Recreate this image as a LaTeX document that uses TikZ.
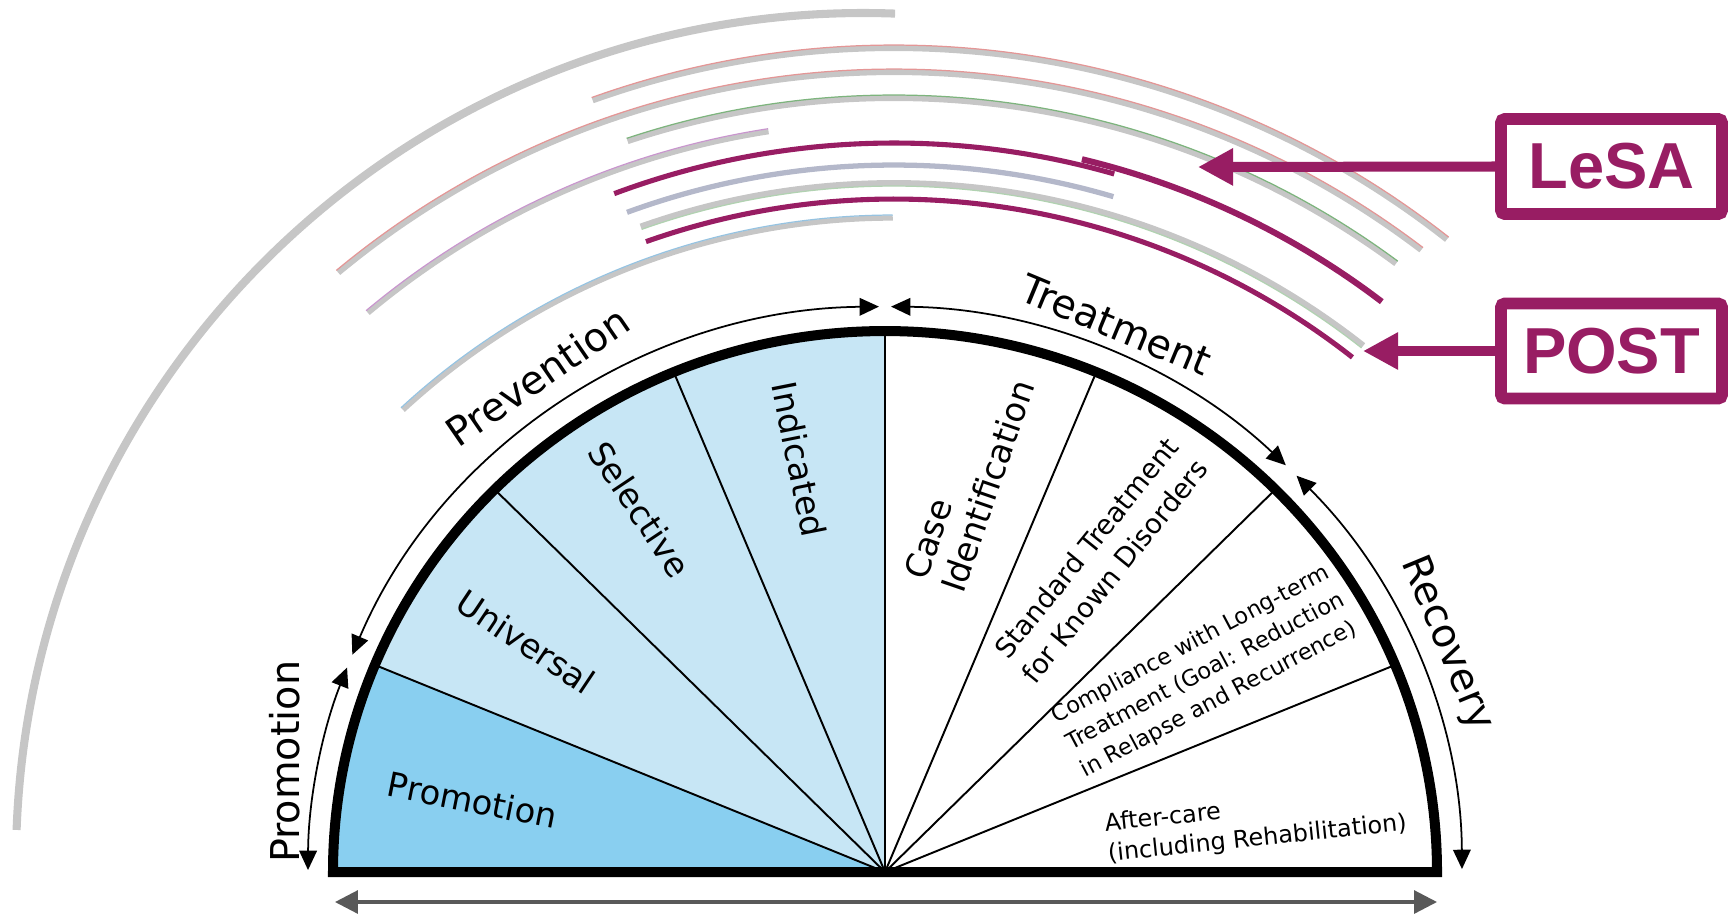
\documentclass[tikz,border=0pt]{standalone}
\usepackage{fontspec}
\setmainfont{DejaVu Sans}
\newfontfamily\boxfont{Liberation Sans}
\usetikzlibrary{arrows.meta}

\definecolor{lesapurple}{RGB}{152,29,99}
\definecolor{promoblue}{RGB}{137,207,240}
\definecolor{prevblue}{RGB}{199,230,245}
\definecolor{ringgray}{RGB}{198,198,198}
\definecolor{edgepink}{RGB}{228,150,150}
\definecolor{edgegreen}{RGB}{125,180,125}
\definecolor{edgelilac}{RGB}{200,150,205}
\definecolor{edgeblue}{RGB}{150,195,225}
\definecolor{slategray}{RGB}{180,184,202}

\tikzset{
  rim/.style={line width=2.85pt, line join=miter},
  divider/.style={line width=0.55pt},
  spanarrow/.style={line width=0.5pt, {Triangle[length=5.5pt,width=5pt]}-{Triangle[length=5.5pt,width=5pt]}},
  basearrow/.style={black!65, line width=0.9pt, {Triangle[length=6.5pt,width=6.5pt]}-{Triangle[length=6.5pt,width=6.5pt]}},
  phaselabel/.style={font=\fontsize{11.3}{13}\selectfont},
  sectorlabel/.style={font=\fontsize{9.6}{11.2}\selectfont, align=left},
  ring/.style={ringgray, line width=1.7pt},
  ringedge/.style={line width=0.35pt},
  toolarc/.style={lesapurple, line width=1.45pt},
  toolbox/.style={draw=lesapurple, line width=3.3pt, rounded corners=1pt, minimum width=2.21cm, minimum height=0.95cm, inner sep=0pt, text=lesapurple, font=\boxfont\bfseries\fontsize{18.5}{20}\selectfont},
  toolarrow/.style={lesapurple, line width=2.85pt, -{Triangle[length=10pt,width=10pt]}}
}

\begin{document}
\begin{tikzpicture}
\useasboundingbox (0,0) rectangle (17.35,9.14);

% Drawing outermost ring
\draw[ringgray, line width=2.3pt] (8.64,0.53) ++(177.9:8.48) arc[start angle=177.9, end angle=87.9, radius=8.48];%

\begin{scope}[shift={(8.94,-0.28)}]
% Drawing ring (pink edge, short)
\draw[ring] (109.7:8.94) arc[start angle=109.7, end angle=51.8, radius=8.94];%
\draw[ringedge, edgepink] (109.7:8.97) arc[start angle=109.7, end angle=51.8, radius=8.97];%
% Drawing ring (pink edge, long)
\draw[ring] (129.7:8.70) arc[start angle=129.7, end angle=52.7, radius=8.70];%
\draw[ringedge, edgepink] (129.7:8.73) arc[start angle=129.7, end angle=52.7, radius=8.73];%
% Drawing ring (green edge)
\draw[ring] (108.4:8.44) arc[start angle=108.4, end angle=53.5, radius=8.44];%
\draw[ringedge, edgegreen] (108.4:8.47) arc[start angle=108.4, end angle=53.5, radius=8.47];%
% Drawing ring (lilac edge)
\draw[ring, line width=1.5pt] (129.9:8.20) arc[start angle=129.9, end angle=98.8, radius=8.20];%
\draw[ringedge, edgelilac] (129.9:8.23) arc[start angle=129.9, end angle=98.8, radius=8.23];%
% Drawing ring (slate)
\draw[slategray, line width=1.5pt] (110.1:7.77) arc[start angle=110.1, end angle=73.6, radius=7.77];%
% Drawing ring (plain)
\draw[ring] (109.5:7.59) arc[start angle=109.5, end angle=51.8, radius=7.59];%
\draw[ringedge, edgegreen!60] (109.5:7.56) arc[start angle=109.5, end angle=51.8, radius=7.56];%
% Drawing ring (blue edge)
\draw[ring, line width=1.5pt] (132.7:7.24) arc[start angle=132.7, end angle=90.1, radius=7.24];%
\draw[ringedge, edgeblue] (132.7:7.27) arc[start angle=132.7, end angle=90.1, radius=7.27];%

% Drawing LeSA and POST arcs
\draw[toolarc] (110.5:7.99) arc[start angle=110.5, end angle=74, radius=7.99];%
\draw[toolarc, line width=1.75pt] (76.5:8.05) arc[start angle=76.5, end angle=52.7, radius=8.05];%
\draw[toolarc] (109.5:7.43) arc[start angle=109.5, end angle=51.9, radius=7.43];%
\end{scope}

\begin{scope}[shift={(8.85,0.42)}, yscale=0.98]
% Drawing sectors
\fill[promoblue] (0,0) -- (180:5.52) arc[start angle=180, end angle=157.5, radius=5.52] -- cycle;%
\fill[prevblue] (0,0) -- (157.5:5.52) arc[start angle=157.5, end angle=90, radius=5.52] -- cycle;%
\foreach \ang in {22.5,45,...,157.5}
  \draw[divider] (0,0) -- (\ang:5.52);%
\draw[rim] (0:5.52) arc[start angle=0, end angle=180, radius=5.52] -- cycle;%

% Drawing phase arrows
\draw[spanarrow] (179.8:5.77) arc[start angle=179.8, end angle=158.8, radius=5.77];%
\draw[spanarrow] (157.4:5.77) arc[start angle=157.4, end angle=90.6, radius=5.77];%
\draw[spanarrow] (89.4:5.77) arc[start angle=89.4, end angle=46, radius=5.77];%
\draw[spanarrow] (44.5:5.77) arc[start angle=44.5, end angle=0.3, radius=5.77];%

% Marking phases
\node[phaselabel, rotate=90] (promophase) at (169.4:6.11) {Promotion};%
\node[phaselabel, rotate=34.5] (prevphase) at (124.5:6.14) {Prevention};%
\node[phaselabel, rotate=-22.5] (treatphase) at (67.5:6.04) {Treatment};%
\node[phaselabel, rotate=-67.5] (recphase) at (22.5:6.08) {Recovery};%

% Marking sectors
\node[sectorlabel, rotate=-11.25] (promosector) at (169.9:4.19) {Promotion};%
\node[sectorlabel, rotate=-33.75] (universal) at (146.8:4.29) {Universal};%
\node[sectorlabel, rotate=-56.25] (selective) at (123.5:4.44) {Selective};%
\node[sectorlabel, rotate=-78.75] (indicated) at (101.5:4.30) {Indicated};%
\node[sectorlabel, rotate=71] (caseid) at (78.1:4.09) {Case\\Identification};%
\node[sectorlabel, align=center, font=\fontsize{7.8}{10.5}\selectfont, rotate=51] (standard) at (56:3.85) {Standard Treatment\\for Known Disorders};%
\node[sectorlabel, font=\fontsize{6.4}{8.8}\selectfont, rotate=28] (compliance) at (32.5:3.80) {Compliance with Long-term\\Treatment (Goal: Reduction\\in Relapse and Recurrence)};%
\node[sectorlabel, font=\fontsize{6.8}{8.6}\selectfont, rotate=6] (aftercare) at (7.5:3.74) {After-care\\(including Rehabilitation)};%
\end{scope}

% Drawing base arrow
\draw[basearrow] (3.35,0.12) -- (14.37,0.12);%

% Marking LeSA and POST
\node[toolbox] (lesa) at (16.115,7.475) {LeSA};%
\node[toolbox] (post) at (16.115,5.63) {POST};%
\coordinate (lesatip) at (11.98,7.47);%
\coordinate (posttip) at (13.63,5.63);%
\draw[toolarrow] (lesa.west) -- (lesatip);%
\draw[toolarrow] (post.west) -- (posttip);%
\end{tikzpicture}
\end{document}
